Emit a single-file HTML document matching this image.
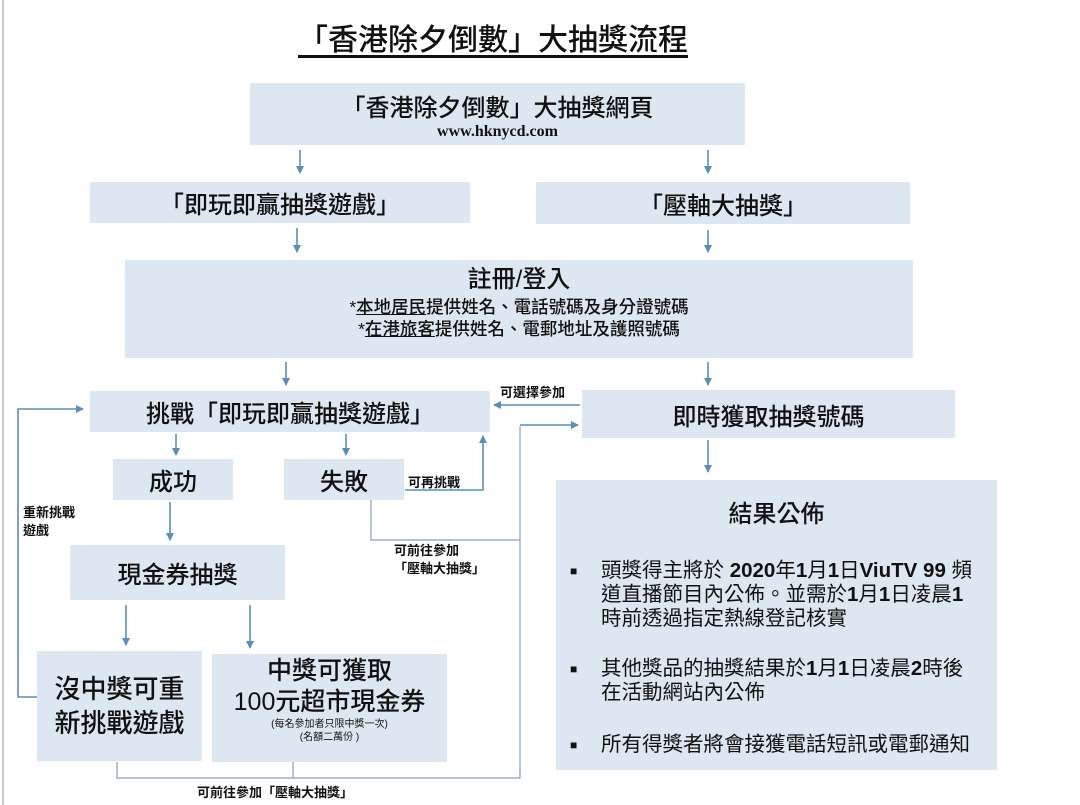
<!DOCTYPE html>
<html><head><meta charset="utf-8"><style>
*{margin:0;padding:0;box-sizing:border-box}
body{width:1080px;height:805px;background:#fff;position:relative;overflow:hidden;font-family:"Liberation Sans","Noto Sans CJK TC",sans-serif;color:#111}
.b{position:absolute;background:#dde7f1;display:flex;flex-direction:column;align-items:center;justify-content:center;text-align:center;font-weight:500}
.t{position:absolute;white-space:nowrap;font-size:13px;font-weight:bold}
svg{position:absolute;left:0;top:0}
</style></head><body>
<div style="position:absolute;left:2px;top:0;width:2px;height:805px;background:#c8c8c8"></div>
<div class="t" style="left:298px;top:15px;font-size:30px;font-weight:500;text-decoration:underline;text-underline-offset:5px">「香港除夕倒數」大抽獎流程</div>

<div class="b" style="left:250px;top:83px;width:495px;height:62px"><div style="font-size:24px">「香港除夕倒數」大抽獎網頁</div><div style="font-family:'Liberation Serif',serif;font-weight:bold;font-size:16px">www.hknycd.com</div></div>
<div class="b" style="left:90px;top:182px;width:380px;height:41px;font-size:24px">「即玩即贏抽獎遊戲」</div>
<div class="b" style="left:536px;top:182px;width:374px;height:42px;font-size:24px">「壓軸大抽獎」</div>
<div class="b" style="left:125px;top:260px;width:788px;height:98px;justify-content:flex-start;padding-top:4px"><div style="font-size:24px;line-height:32px">註冊/登入</div><div style="font-size:17.5px;line-height:22px">*<u>本地居民</u>提供姓名、電話號碼及身分證號碼<br>*<u>在港旅客</u>提供姓名、電郵地址及護照號碼</div></div>
<div class="b" style="left:90px;top:391px;width:400px;height:41px;font-size:24px">挑戰「即玩即贏抽獎遊戲」</div>
<div class="b" style="left:582px;top:390px;width:373px;height:48px;font-size:24px">即時獲取抽獎號碼</div>
<div class="b" style="left:113px;top:459px;width:120px;height:41px;font-size:24px">成功</div>
<div class="b" style="left:284px;top:459px;width:120px;height:41px;font-size:24px">失敗</div>
<div class="b" style="left:70px;top:545px;width:215px;height:55px;font-size:24px">現金券抽獎</div>
<div class="b" style="left:37px;top:651px;width:165px;height:110px;font-size:26px;line-height:34px">沒中獎可重<br>新挑戰遊戲</div>
<div class="b" style="left:212px;top:654px;width:235px;height:108px;justify-content:flex-start;padding-top:2px"><div style="font-size:25px;line-height:31px">中獎可獲取<br>100元超市現金券</div><div style="font-size:10px;line-height:13px;font-weight:normal">(每名參加者只限中獎一次)<br>(名額二萬份 )</div></div>
<div class="b" style="left:556px;top:480px;width:441px;height:290px;justify-content:flex-start;align-items:flex-start;text-align:left;font-weight:normal">
<div style="width:100%;text-align:center;font-size:24px;margin-top:14px;font-weight:500">結果公佈</div>
<div style="position:absolute;left:14px;top:79px;font-size:20.5px;line-height:24px;width:430px;white-space:nowrap">
<div style="display:flex"><span style="width:31px;font-size:12px">■</span><span>頭獎得主將於 <b>2020</b>年<b>1</b>月<b>1</b>日<b>ViuTV 99</b> 頻<br>道直播節目內公佈。並需於<b>1</b>月<b>1</b>日凌晨<b>1</b><br>時前透過指定熱線登記核實</span></div>
<div style="display:flex;margin-top:26px"><span style="width:31px;font-size:12px">■</span><span>其他獎品的抽獎結果於<b>1</b>月<b>1</b>日凌晨<b>2</b>時後<br>在活動網站內公佈</span></div>
<div style="display:flex;margin-top:28px"><span style="width:31px;font-size:12px">■</span><span>所有得獎者將會接獲電話短訊或電郵通知</span></div>
</div></div>

<div class="t" style="left:500px;top:382px">可選擇參加</div>
<div class="t" style="left:408px;top:472px">可再挑戰</div>
<div class="t" style="left:23px;top:504px;line-height:18px">重新挑戰<br>遊戲</div>
<div class="t" style="left:394px;top:542px;line-height:18px">可前往參加<br>「壓軸大抽獎」</div>
<div class="t" style="left:197px;top:782px">可前往參加「壓軸大抽獎」</div>

<svg width="1080" height="805">
<defs><marker id="a" markerWidth="8" markerHeight="8" refX="7" refY="4" orient="auto" markerUnits="userSpaceOnUse"><path d="M0,0L8,4L0,8z" fill="#5b8dba"/></marker></defs>
<g stroke="#5b8dba" stroke-width="1.6" fill="none" marker-end="url(#a)">
<path d="M300,150V173"/><path d="M708,150V173"/>
<path d="M297,228V252"/><path d="M708,230V252"/>
<path d="M286,362V385"/><path d="M708,362V385"/>
<path d="M580,405H494"/>
<path d="M520,425H578"/>
<path d="M176,434V455"/><path d="M346,434V455"/>
<path d="M405,490H483V436"/>
<path d="M170,502V540"/>
<path d="M126,605V645"/><path d="M250,605V648"/>
<path d="M708,440V472"/>
<path d="M37,697H18V409H83"/>
</g>
<g stroke="#8aa0b4" stroke-width="1.2" fill="none">
<path d="M371,500V540H520"/>
<path d="M520,426V775"/>
<path d="M117,762V778H520V770"/>
<path d="M293,762V778"/>
</g>
</svg>
</body></html>
